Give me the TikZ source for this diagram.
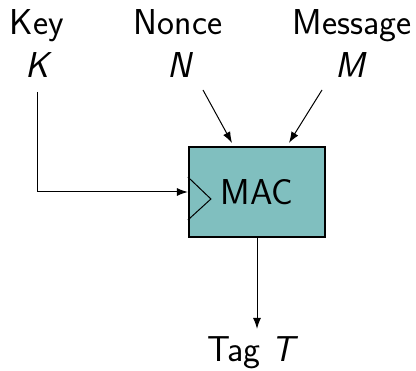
\documentclass[tikz,border=0pt]{standalone}
\usepackage{fontspec}
\usetikzlibrary{arrows.meta}
\definecolor{macfill}{RGB}{128,191,191}
\begin{document}
\begin{tikzpicture}[x=1pt,y=1pt,
  lbl/.style={font=\fontsize{36}{42}\selectfont\sffamily, inner sep=0pt, anchor=base},
  var/.style={font=\fontsize{36}{42}\selectfont\sffamily\itshape, inner sep=0pt, anchor=base},
  conn/.style={line width=1pt, -{Latex[length=11pt,width=8pt]}},
  macbox/.style={draw=black, line width=2.2pt, fill=macfill, minimum width=136pt, minimum height=90pt, inner sep=0pt, font=\fontsize{36}{42}\selectfont\sffamily}]
\useasboundingbox (0,0) rectangle (416,-371);
\node[macbox] (mac) at (257,-192) {MAC};
\node[lbl] (key) at (37,-35) {Key};
\node[var] (kvar) at (37,-78) {K};
\node[lbl] (nonce) at (178,-35) {Nonce};
\node[var] (nvar) at (179,-78) {N};
\node[lbl] (msg) at (352,-35) {Message};
\node[var] (mvar) at (350,-78) {M};
\node[lbl] (tag) at (253,-362) {Tag~\textit{T}};
\coordinate (kstart) at (37,-92);
\coordinate (nstart) at (203,-90);
\coordinate (mstart) at (322,-90);
\draw[conn] (kstart) |- (mac.west);
\draw[conn] (nstart) -- ([xshift=-25pt,yshift=3pt]mac.north);
\draw[conn] (mstart) -- ([xshift=32pt,yshift=3pt]mac.north);
\draw[conn] (mac.south) -- ([xshift=4pt,yshift=8pt]tag.north);
\draw[line width=1pt] ([yshift=15pt]mac.west) -- ([xshift=23pt,yshift=-7pt]mac.west) -- ([yshift=-28pt]mac.west);
\end{tikzpicture}
\end{document}
